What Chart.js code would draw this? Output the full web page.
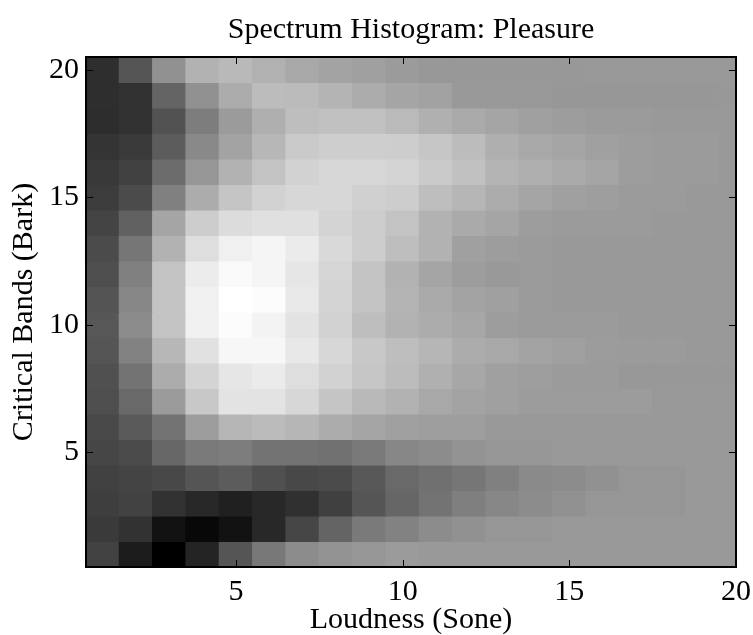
<!DOCTYPE html>
<html>
<head>
<meta charset="utf-8">
<title>Spectrum Histogram: Pleasure</title>
<script src="https://cdn.jsdelivr.net/npm/chart.js@4"></script>
<style>
html, body { margin: 0; padding: 0; background: #fff; }
#wrap { width: 753px; height: 635px; }
</style>
</head>
<body>
<div id="wrap"><canvas id="chart" width="753" height="635"></canvas></div>
<script>
// ======================================
// DATA
// ======================================
const loudness = [1,2,3,4,5,6,7,8,9,10,11,12,13,14,15,16,17,18,19,20];
const bands = [20,19,18,17,16,15,14,13,12,11,10,9,8,7,6,5,4,3,2,1];
const xTicks = [5,10,15,20];
const yTicks = [5,10,15,20];

// histogram level per cell, one row per band (top row = band 20), 0 black .. 255 white
const levels = [
  [46,85,145,178,185,177,168,163,160,155,152,152,152,152,152,153,153,153,153,153],
  [46,50,100,145,172,188,187,180,172,165,162,153,153,153,151,151,151,151,151,152],
  [45,50,82,125,155,175,190,193,193,186,176,170,165,160,157,155,155,153,153,153],
  [52,58,92,137,163,183,202,206,206,205,198,188,175,168,165,160,157,155,155,153],
  [57,65,108,150,178,195,210,215,215,212,202,193,180,175,170,165,157,155,155,153],
  [60,75,128,172,197,210,215,215,208,205,190,182,172,165,160,158,155,155,153,153],
  [68,97,165,205,220,224,224,212,205,195,178,170,165,157,155,155,155,153,153,153],
  [75,118,178,222,240,245,235,217,205,190,178,160,157,155,153,153,153,153,153,153],
  [78,128,195,236,250,245,230,213,195,178,165,157,153,155,153,153,153,153,153,153],
  [84,135,195,240,255,252,233,212,195,180,170,163,160,155,153,153,153,153,153,153],
  [87,140,195,240,252,243,227,210,190,178,172,167,157,155,155,155,153,153,153,153],
  [85,130,183,225,247,247,232,215,200,190,182,172,168,163,160,156,155,155,153,153],
  [80,115,172,212,230,235,222,210,198,188,176,167,160,158,155,155,152,152,152,152],
  [78,105,155,200,227,227,215,197,185,178,168,163,160,156,156,156,156,153,153,153],
  [73,90,115,157,182,187,182,172,165,160,158,158,153,153,153,153,153,153,153,153],
  [70,75,103,122,125,115,115,113,122,135,140,147,150,150,153,153,153,153,153,153],
  [65,68,72,85,92,80,72,75,88,105,112,118,128,138,140,145,150,150,153,153],
  [62,66,50,40,32,40,48,64,85,102,115,127,135,140,145,150,150,150,153,153],
  [58,50,18,8,18,40,70,100,122,130,140,145,150,150,153,153,153,153,153,153],
  [66,28,0,36,85,120,140,147,150,155,153,153,153,153,153,153,153,153,153,153]
];

// ======================================
// CHART OPTIONS
// ======================================
const FONT_FAMILY = '"Liberation Serif", "Times New Roman", serif';
const LEFT_WIDTH = 86;
const RIGHT_WIDTH = 17;
const BOTTOM_HEIGHT = 68;
const TICK_LENGTH = 7;

function gray(v) {
    return `rgb(${v},${v},${v})`;
}

// one floating-bar dataset per band, each cell spans band-0.5 .. band+0.5
const datasets = bands.map((band, r) => ({
    data: loudness.map(x => ({ x: x, y: [band - 0.5, band + 0.5] })),
    backgroundColor: levels[r].map(gray),
    borderWidth: 0,
    borderSkipped: false,
    inflateAmount: 0.6, // hides the antialiased seams between cells
    grouped: false,
    barPercentage: 1,
    categoryPercentage: 1,
    xAxisID: 'x',
    yAxisID: 'y'
}));

// long labels would otherwise push the plot area in
function noLabelPadding(axis) {
    axis.paddingLeft = 0;
    axis.paddingRight = 0;
    axis.paddingTop = 0;
    axis.paddingBottom = 0;
}

function axisBase(tickList, showLabels) {
    return {
        type: 'linear',
        afterBuildTicks: axis => { axis.ticks = tickList.map(v => ({ value: v })); },
        grid: { drawOnChartArea: false, drawTicks: false },
        border: { display: true, color: '#000', width: 2, z: 1 },
        ticks: {
            display: showLabels,
            color: '#000',
            autoSkip: false,
            maxRotation: 0,
            padding: 7,
            font: { family: FONT_FAMILY, size: 30 },
            callback: v => String(v)
        }
    };
}

const xAxis = Object.assign(axisBase(xTicks, true), {
    position: 'bottom', min: 0.5, max: 20, offset: false,
    title: { display: true, text: 'Loudness (Sone)', color: '#000', padding: { top: 0, bottom: -3 }, font: { family: FONT_FAMILY, size: 30 } },
    afterFit: axis => { axis.height = BOTTOM_HEIGHT; noLabelPadding(axis); }
});
const xTop = Object.assign(axisBase(xTicks, false), {
    position: 'top', min: 0.5, max: 20, offset: false,
    afterFit: axis => { axis.height = 0; noLabelPadding(axis); }
});
const yAxis = Object.assign(axisBase(yTicks, true), {
    position: 'left', min: 0.5, max: 20.5,
    title: { display: true, text: 'Critical Bands (Bark)', color: '#000', padding: { top: 6, bottom: 0 }, font: { family: FONT_FAMILY, size: 30 } },
    afterFit: axis => { axis.width = LEFT_WIDTH; noLabelPadding(axis); }
});
const yRight = Object.assign(axisBase(yTicks, false), {
    position: 'right', min: 0.5, max: 20.5,
    afterFit: axis => { axis.width = RIGHT_WIDTH; noLabelPadding(axis); }
});

// inward tick marks on all four sides of the box
const inwardTicks = {
    id: 'inwardTicks',
    afterDatasetsDraw(chart) {
        const { ctx, chartArea: area, scales } = chart;
        ctx.save();
        ctx.strokeStyle = '#000';
        ctx.lineWidth = 1;
        ctx.beginPath();
        xTicks.forEach(v => {
            const px = Math.round(scales.x.getPixelForValue(v)) + 0.5;
            ctx.moveTo(px, area.top);
            ctx.lineTo(px, area.top + TICK_LENGTH);
            ctx.moveTo(px, area.bottom);
            ctx.lineTo(px, area.bottom - TICK_LENGTH);
        });
        yTicks.forEach(v => {
            const py = Math.round(scales.y.getPixelForValue(v)) + 0.5;
            ctx.moveTo(area.left, py);
            ctx.lineTo(area.left + TICK_LENGTH, py);
            ctx.moveTo(area.right, py);
            ctx.lineTo(area.right - TICK_LENGTH, py);
        });
        ctx.stroke();
        ctx.restore();
    }
};

// ======================================
// CHART INITIALIZATION
// ======================================
new Chart(document.getElementById('chart'), {
    type: 'bar',
    data: { datasets },
    plugins: [inwardTicks],
    options: {
        responsive: false,
        animation: false,
        layout: { padding: 0 },
        scales: { x: xAxis, x2: xTop, y: yAxis, y2: yRight },
        plugins: {
            legend: { display: false },
            tooltip: { enabled: false },
            title: {
                display: true,
                text: 'Spectrum Histogram: Pleasure',
                color: '#000',
                fullSize: false,
                padding: { top: 12, bottom: 9 },
                font: { family: FONT_FAMILY, size: 30, weight: 'normal' }
            }
        }
    }
});
</script>
</body>
</html>
